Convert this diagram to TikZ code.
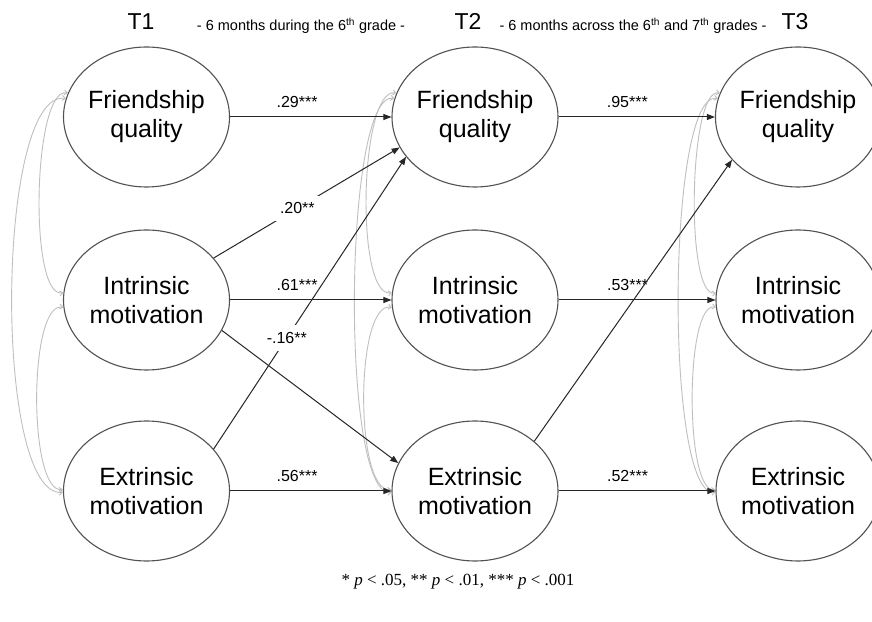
\documentclass[tikz,border=0pt]{standalone}
\usepackage{fontspec}
\setmainfont{Liberation Sans}
\newfontfamily\timesfont{Liberation Serif}
\usetikzlibrary{arrows.meta,shapes.geometric}
\begin{document}
\begin{tikzpicture}[x=1pt,y=1pt,
 latent/.style={ellipse, draw=black!68, line width=1.1pt, minimum width=166pt, minimum height=140pt, inner sep=0pt, align=center, font=\fontsize{25}{29}\selectfont},
 latentc/.style={latent, minimum width=164pt},
 pathar/.style={draw=black!85, line width=1pt, -{Triangle[length=8pt,width=6pt]}},
 cov/.style={draw=black!25, line width=0.9pt, {Straight Barb[length=3pt,width=5pt]}-{Straight Barb[length=3pt,width=5pt]}},
 coef/.style={font=\fontsize{16}{18}\selectfont, inner sep=0pt},
 coefw/.style={coef, fill=white, inner sep=7pt},
 hdr/.style={font=\fontsize{23}{26}\selectfont, anchor=base},
 subhdr/.style={font=\fontsize{14.5}{16}\selectfont, anchor=base}]
\useasboundingbox (0,0) rectangle (872,621);
\fill[white] (0,0) rectangle (872,621);

% headers
\node[hdr] (t1) at (141,591) {T1};
\node[subhdr] (s1) at (301,590) {- 6 months during the 6\textsuperscript{th} grade -};
\node[hdr] (t2) at (468,591) {T2};
\node[subhdr] (s2) at (633,590) {- 6 months across the 6\textsuperscript{th} and 7\textsuperscript{th} grades -};
\node[hdr] (t3) at (795,591) {T3};

% latent variables
\node[latent] (FQ1) at (146.5,504) {Friendship\\quality};
\node[latent] (IM1) at (146.5,321) {Intrinsic\\motivation};
\node[latent] (EM1) at (146.5,130) {Extrinsic\\motivation};
\node[latent] (FQ2) at (475,504) {Friendship\\quality};
\node[latent] (IM2) at (475,321) {Intrinsic\\motivation};
\node[latent] (EM2) at (475,130) {Extrinsic\\motivation};
\node[latentc] (FQ3) at (798,504) {Friendship\\quality};
\node[latentc] (IM3) at (798,321) {Intrinsic\\motivation};
\node[latentc] (EM3) at (798,130) {Extrinsic\\motivation};

% covariances T1
\draw[cov] (FQ1.167) .. controls +(-70,8) and +(-70,-4) .. (EM1.181);
\draw[cov] (FQ1.163) .. controls +(-35,6) and +(-35,-6) .. (IM1.175);
\draw[cov] (IM1.185) .. controls +(-35,6) and +(-35,-4) .. (EM1.179);
% covariances T2
\draw[cov] (FQ2.167) .. controls +(-51,8) and +(-51,-4) .. (EM2.181);
\draw[cov] (FQ2.163) .. controls +(-37,6) and +(-37,-6) .. (IM2.175);
\draw[cov] (IM2.185) .. controls +(-37,6) and +(-37,-4) .. (EM2.179);
% covariances T3
\draw[cov] (FQ3.167) .. controls +(-51,8) and +(-51,-4) .. (EM3.181);
\draw[cov] (FQ3.163) .. controls +(-31,6) and +(-31,-6) .. (IM3.175);
\draw[cov] (IM3.185) .. controls +(-31,6) and +(-31,-4) .. (EM3.179);

% paths T1 -> T2
\draw[pathar] (FQ1.east) -- node[coef, above=9pt, pos=0.415] (c1) {.29***} (FQ2.west);
\draw[pathar] (IM1.32) -- node[coefw, pos=0.45] (c2) {.20**} (FQ2.202);
\draw[pathar] (IM1.east) -- node[coef, above=9pt, pos=0.415] (c3) {.61***} (IM2.west);
\draw[pathar] (EM1.32) -- node[coefw, pos=0.38] (c4) {-.16**} (FQ2.210);
\draw[pathar] (IM1.-22) -- (EM2.160);
\draw[pathar] (EM1.east) -- node[coef, above=9pt, pos=0.415] (c5) {.56***} (EM2.west);

% paths T2 -> T3
\draw[pathar] (FQ2.east) -- node[coef, above=9pt, pos=0.44] (c6) {.95***} (FQ3.west);
\draw[pathar] (IM2.east) -- node[coef, above=9pt, pos=0.44] (c7) {.53***} (IM3.west);
\draw[pathar] (EM2.east) -- node[coef, above=9pt, pos=0.44] (c8) {.52***} (EM3.west);
\draw[pathar] (EM2.40) -- (FQ3.213);

% footnote
\node[font=\timesfont\fontsize{17}{20}\selectfont] (note) at (458,39) {* \textit{p} < .05, ** \textit{p} < .01, *** \textit{p} < .001};
\end{tikzpicture}
\end{document}
